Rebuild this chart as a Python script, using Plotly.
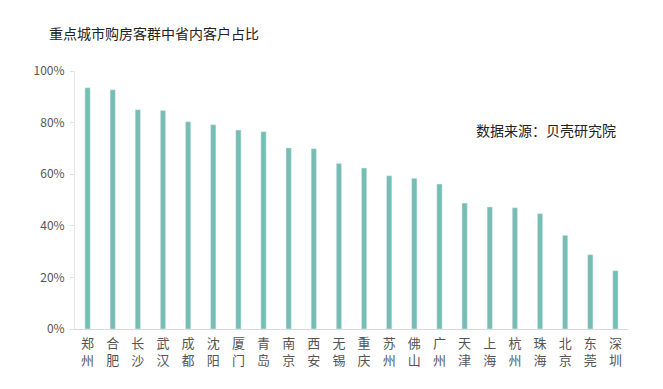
import plotly.graph_objects as go

cities = ["郑州", "合肥", "长沙", "武汉", "成都", "沈阳", "厦门", "青岛", "南京", "西安", "无锡", "重庆",
          "苏州", "佛山", "广州", "天津", "上海", "杭州", "珠海", "北京", "东莞", "深圳"]
shares = [0.935, 0.927, 0.850, 0.847, 0.803, 0.792, 0.771, 0.765, 0.702, 0.699, 0.641, 0.624,
          0.594, 0.584, 0.562, 0.488, 0.473, 0.470, 0.447, 0.363, 0.288, 0.226]
y_ticks = [0, 0.2, 0.4, 0.6, 0.8, 1.0]
y_tick_labels = ["0%", "20%", "40%", "60%", "80%", "100%"]

font = "Noto Sans CJK SC"
vert_labels = ["<br>".join(list(c)) for c in cities]

fig = go.Figure(go.Bar(x=cities, y=shares, marker_color="#76bdb4", width=0.21))

fig.update_layout(
    width=655, height=381,
    margin=dict(l=67, r=35, t=63, b=60),
    paper_bgcolor="white", plot_bgcolor="white",
    showlegend=False,
    font=dict(family=font, color="#444"),
    annotations=[
        dict(text="重点城市购房客群中省内客户占比", xref="paper", yref="paper",
             x=(47 - 75) / 553, xanchor="left", y=(329 - 33) / 258, yanchor="middle",
             showarrow=False, font=dict(size=14, color="#222", family=font)),
        dict(text="数据来源：贝壳研究院", xref="paper", yref="paper",
             x=(618 - 75) / 553, xanchor="right", y=(329 - 130) / 258, yanchor="middle",
             showarrow=False, font=dict(size=14, color="#222", family=font)),
    ],
)
fig.update_xaxes(tickmode="array", tickvals=cities, ticktext=vert_labels, automargin=False,
                 showline=True, linecolor="#d9d9d9", linewidth=1, ticks="",
                 ticklabelstandoff=2,
                 tickfont=dict(size=13, color="#555", family=font), showgrid=False)
fig.update_yaxes(range=[0, 1.0], tickvals=y_ticks, ticktext=y_tick_labels, automargin=False,
                 showline=True, linecolor="#e6e6e6", linewidth=1,
                 ticks="outside", ticklen=4, tickcolor="#e0e0e0", ticklabelstandoff=3,
                 showgrid=False, zeroline=False,
                 tickfont=dict(size=12, color="#555", family=font))

fig.write_html("out.html")
